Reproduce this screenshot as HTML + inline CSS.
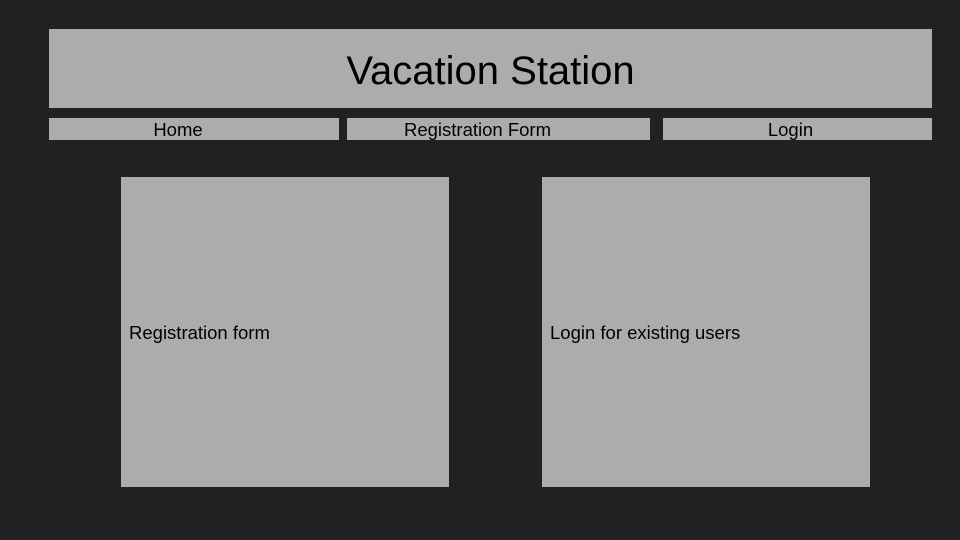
<!DOCTYPE html>
<html><head><style>
body{margin:0;width:960px;height:540px;background:#212121;position:relative;overflow:hidden;font-family:"Liberation Sans",sans-serif;color:#000}
.b{position:absolute;background:#acacac;box-sizing:border-box}
.c{display:flex;align-items:center;justify-content:center}
.l{display:flex;align-items:center;padding-left:8px;padding-top:1px;font-size:18.5px}
</style></head><body>
<div class="b c" style="left:49px;top:29px;width:883px;height:79px;font-size:40px;padding-top:5px">Vacation Station</div>
<div class="b c" style="left:49px;top:118px;width:290px;height:22px;font-size:18.5px;padding-right:32px;padding-top:1px">Home</div>
<div class="b c" style="left:347px;top:118px;width:303px;height:22px;font-size:18.5px;padding-right:42px;padding-top:1px">Registration Form</div>
<div class="b c" style="left:663px;top:118px;width:269px;height:22px;font-size:18.5px;padding-right:14px;padding-top:1px">Login</div>
<div class="b l" style="left:121px;top:177px;width:328px;height:310px">Registration form</div>
<div class="b l" style="left:542px;top:177px;width:328px;height:310px">Login for existing users</div>
</body></html>
